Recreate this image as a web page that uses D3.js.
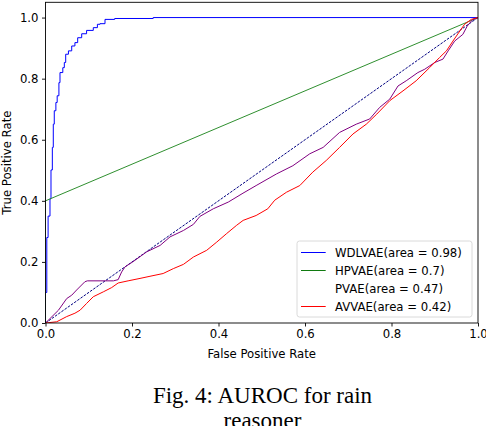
<!DOCTYPE html>
<html>
<head>
<meta charset="utf-8">
<script src="https://cdn.jsdelivr.net/npm/d3@7"></script>
<style>
  body { margin: 0; background: #fff; }
  svg { display: block; }
  .tick text { font-family: "DejaVu Sans", sans-serif; font-size: 11.7px; fill: #000; }
</style>
</head>
<body>
<div id="chart-area"></div>
<script>
// ROC curve points, [fpr, tpr]
var wdlvae = [[0, 0], [0, 0.1], [0.003, 0.28], [0.006, 0.35], [0.0104, 0.407], [0.0127, 0.501], [0.0158, 0.575],
    [0.018, 0.651], [0.0203, 0.695], [0.024, 0.722], [0.027, 0.744], [0.031, 0.787], [0.0335, 0.82],
    [0.04, 0.836], [0.0435, 0.853], [0.0467, 0.88], [0.053, 0.891], [0.0606, 0.907], [0.068, 0.918],
    [0.0744, 0.934], [0.0837, 0.947], [0.095, 0.958], [0.1105, 0.967], [0.12, 0.978], [0.126, 0.98],
    [0.1376, 0.994], [0.16, 0.997], [0.249, 1.0], [1, 1]];
var hpvae = [[0, 0], [0, 0.4], [1, 1]];
var pvae = [[0, 0], [0.03, 0.042], [0.049, 0.08], [0.0606, 0.091], [0.072, 0.108], [0.091, 0.135],
    [0.0967, 0.138], [0.157, 0.138], [0.168, 0.142], [0.176, 0.167], [0.184, 0.184], [0.2016, 0.2],
    [0.234, 0.233], [0.265, 0.254], [0.288, 0.282], [0.319, 0.303], [0.342, 0.323], [0.357, 0.349],
    [0.388, 0.374], [0.4227, 0.396], [0.4566, 0.425], [0.487, 0.45], [0.534, 0.488], [0.572, 0.515],
    [0.611, 0.554], [0.642, 0.575], [0.68, 0.624], [0.7186, 0.651], [0.7496, 0.668], [0.7727, 0.706],
    [0.796, 0.733], [0.815, 0.776], [0.834, 0.793], [0.861, 0.82], [0.877, 0.831], [0.9, 0.853],
    [0.919, 0.864], [0.931, 0.891], [0.946, 0.923], [0.965, 0.945], [0.975, 0.972], [0.988, 0.994], [1, 1]];
var avvae = [[0, 0], [0.026, 0.004], [0.049, 0.021], [0.068, 0.032], [0.08, 0.042], [0.095, 0.064],
    [0.1105, 0.086], [0.1336, 0.102], [0.153, 0.116], [0.168, 0.131], [0.191, 0.138], [0.2185, 0.146],
    [0.2416, 0.153], [0.272, 0.162], [0.2955, 0.178], [0.319, 0.192], [0.342, 0.216], [0.3727, 0.238],
    [0.396, 0.265], [0.419, 0.293], [0.442, 0.32], [0.457, 0.336], [0.487, 0.352], [0.514, 0.374],
    [0.53, 0.402], [0.557, 0.428], [0.588, 0.45], [0.618, 0.494], [0.649, 0.532], [0.68, 0.575],
    [0.711, 0.619], [0.7418, 0.651], [0.766, 0.684], [0.796, 0.728], [0.8266, 0.76], [0.857, 0.793],
    [0.888, 0.836], [0.911, 0.869], [0.927, 0.891], [0.942, 0.923], [0.958, 0.956], [0.969, 0.978],
    [0.9845, 0.994], [1, 1]];
var chance = [[0, 0], [1, 1]];

var legendLabels = ["WDLVAE(area = 0.98)", "HPVAE(area = 0.7)", "PVAE(area = 0.47)", "AVVAE(area = 0.42)"];
var xTicks = [0, 0.2, 0.4, 0.6, 0.8, 1.0];
var yTicks = [0, 0.2, 0.4, 0.6, 0.8, 1.0];

var series = [
    { name: legendLabels[0], data: wdlvae, color: "#0000ff", step: true, handle: "#0000ff" },
    { name: legendLabels[1], data: hpvae, color: "#2f8f2f", handle: "#107a10" },
    { name: null, data: chance, color: "#000080", dash: "2.6,1.3" },
    { name: legendLabels[2], data: pvae, color: "#800080", handle: "none" },
    { name: legendLabels[3], data: avvae, color: "#ff0000", handle: "#ff0000" }
];

var W = 486, H = 426;
var plot = { left: 45.5, right: 478, top: 2.3, bottom: 323 };

var svg = d3.select("#chart-area")
    .append("svg")
    .attr("width", W)
    .attr("height", H);

var x = d3.scaleLinear().domain([0, 1]).range([plot.left, plot.right]);
var y = d3.scaleLinear().domain([0, 1.05]).range([plot.bottom, plot.top]);

var line = d3.line().x(d => x(d[0])).y(d => y(d[1]));
var stepLine = d3.line().x(d => x(d[0])).y(d => y(d[1])).curve(d3.curveStepAfter);

svg.append("clipPath").attr("id", "clip")
    .append("rect")
    .attr("x", plot.left).attr("y", plot.top)
    .attr("width", plot.right - plot.left).attr("height", plot.bottom - plot.top);

var lines = svg.append("g").attr("clip-path", "url(#clip)");
series.forEach(s => {
    lines.append("path")
        .datum(s.data)
        .attr("d", s.step ? stepLine : line)
        .attr("fill", "none")
        .attr("stroke", s.color)
        .attr("stroke-width", 1)
        .attr("stroke-dasharray", s.dash || null);
});

// axes
var xAxis = svg.append("g")
    .attr("transform", "translate(0," + plot.bottom + ")")
    .call(d3.axisBottom(x).tickValues(xTicks).tickFormat(d3.format(".1f")).tickSize(3.5).tickPadding(3.5));
var yAxis = svg.append("g")
    .attr("transform", "translate(" + plot.left + ",0)")
    .call(d3.axisLeft(y).tickValues(yTicks).tickFormat(d3.format(".1f")).tickSize(3.5).tickPadding(3.5));
[xAxis, yAxis].forEach(g => {
    g.select(".domain").remove();
    g.selectAll(".tick line").attr("stroke", "#000").attr("stroke-width", 0.9);
});

// frame
svg.append("rect")
    .attr("x", plot.left).attr("y", plot.top)
    .attr("width", plot.right - plot.left).attr("height", plot.bottom - plot.top)
    .attr("fill", "none").attr("stroke", "#000").attr("stroke-width", 0.9);

svg.append("text")
    .attr("x", (plot.left + plot.right) / 2)
    .attr("y", 357.5)
    .attr("text-anchor", "middle")
    .style("font-family", "DejaVu Sans, sans-serif")
    .style("font-size", "11.7px")
    .text("False Positive Rate");

svg.append("text")
    .attr("transform", "translate(11," + ((plot.top + plot.bottom) / 2) + ") rotate(-90)")
    .attr("text-anchor", "middle")
    .style("font-family", "DejaVu Sans, sans-serif")
    .style("font-size", "11.7px")
    .text("True Positive Rate");

// legend
var legend = svg.append("g").attr("transform", "translate(297,241)");
legend.append("rect")
    .attr("width", 175).attr("height", 76)
    .attr("rx", 2.5)
    .attr("fill", "#fff").attr("fill-opacity", 0.8)
    .attr("stroke", "#d6d6d6").attr("stroke-width", 0.9);

var entries = legend.selectAll("g.entry")
    .data(series.filter(s => s.name))
    .enter().append("g")
    .attr("class", "entry")
    .attr("transform", (d, i) => "translate(0," + (Math.round(10.7 + i * 18.2) + 0.5) + ")");

entries.append("line")
    .attr("x1", 4).attr("x2", 28.7)
    .attr("stroke", d => d.handle)
    .attr("stroke-width", 1);

entries.append("text")
    .attr("x", 38)
    .attr("dy", "0.36em")
    .style("font-family", "DejaVu Sans, sans-serif")
    .style("font-size", "11.7px")
    .text(d => d.name);

// caption
var caption = svg.append("text")
    .attr("text-anchor", "middle")
    .style("font-family", "Liberation Serif, Times New Roman, serif")
    .style("font-size", "23px");
caption.append("tspan").attr("x", 262.5).attr("y", 402.7).text("Fig. 4: AUROC for rain");
caption.append("tspan").attr("x", 262.5).attr("y", 428).text("reasoner");
</script>
</body>
</html>
